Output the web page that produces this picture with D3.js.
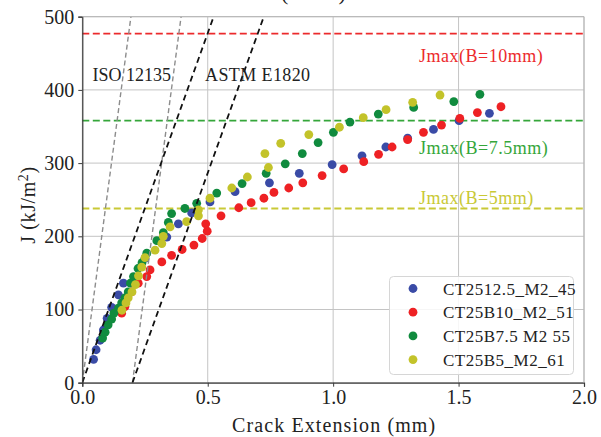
<!DOCTYPE html>
<html>
<head>
<meta charset="utf-8">
<script src="https://cdn.jsdelivr.net/npm/d3@7"></script>
<style>
  html, body { margin: 0; padding: 0; background: #fff; }
  svg { display: block; }
  text { font-family: "Liberation Serif", "Times New Roman", serif; fill: #222; }
</style>
</head>
<body>
<svg id="chart" width="601" height="437"></svg>
<script>
// ---- data: crack extension (mm) vs J (kJ/m^2) ----
const seriesNames = ["CT2512.5_M2_45", "CT25B10_M2_51", "CT25B7.5 M2 55", "CT25B5_M2_61"];

const ct25b125 = [
  [0.045, 32], [0.055, 45], [0.071, 58], [0.084, 72], [0.099, 88], [0.117, 103],
  [0.144, 120], [0.164, 136], [0.25, 170], [0.337, 199], [0.383, 217], [0.436, 232],
  [0.509, 247], [0.609, 261], [0.746, 273], [0.865, 286], [0.996, 298], [1.115, 310],
  [1.21, 322], [1.297, 334], [1.40, 346], [1.502, 358], [1.623, 368]
];
const ct25b10 = [
  [0.157, 95], [0.170, 104], [0.197, 124], [0.223, 136], [0.257, 145], [0.270, 154],
  [0.317, 165], [0.356, 174], [0.398, 182], [0.445, 188], [0.478, 197], [0.498, 207],
  [0.492, 217], [0.553, 228], [0.624, 239], [0.673, 246], [0.724, 252], [0.764, 260],
  [0.823, 266], [0.879, 273], [0.956, 283], [1.042, 292], [1.122, 302], [1.181, 312],
  [1.235, 322], [1.297, 332], [1.360, 342], [1.432, 352], [1.505, 361], [1.575, 369],
  [1.669, 377]
];
const ct25b75 = [
  [0.081, 61], [0.091, 69], [0.103, 79], [0.117, 87], [0.126, 95], [0.144, 102],
  [0.157, 109], [0.170, 116], [0.183, 124], [0.192, 136], [0.204, 145], [0.222, 156],
  [0.238, 164], [0.257, 177], [0.297, 194], [0.323, 205], [0.343, 219], [0.356, 231],
  [0.409, 238], [0.456, 245], [0.536, 259], [0.637, 272], [0.733, 286], [0.809, 299],
  [0.877, 313], [0.940, 328], [1.001, 342], [1.067, 356], [1.180, 367], [1.321, 376],
  [1.481, 384], [1.585, 394]
];
const ct25b5 = [
  [0.158, 99], [0.174, 109], [0.183, 116], [0.198, 124], [0.212, 134], [0.224, 146],
  [0.237, 158], [0.250, 171], [0.290, 181], [0.317, 190], [0.323, 200], [0.350, 213],
  [0.416, 220], [0.463, 228], [0.463, 236], [0.509, 252], [0.596, 266], [0.658, 281],
  [0.742, 294], [0.728, 313], [0.791, 327], [0.903, 339], [1.025, 349], [1.120, 362],
  [1.211, 373], [1.317, 383], [1.426, 393]
];
const seriesData = [ct25b125, ct25b10, ct25b75, ct25b5];

// maximum valid J for each specimen thickness
const jmaxValues = [477, 358, 238];
const jmaxLabels = ["Jmax(B=10mm)", "Jmax(B=7.5mm)", "Jmax(B=5mm)"];

// blunting / offset construction lines: J = slope * (da - offset)
const isoSlope = 2580;
const astmSlope = 955;
const constructionOffsets = [0, 0.2];

const xTicks = [0, 0.5, 1.0, 1.5, 2.0];
const yTicks = [0, 100, 200, 300, 400, 500];

// ---- layout ----
const svg = d3.select("#chart");
const plot = { left: 82.3, right: 584, top: 16.7, bottom: 382.7 };

const x = d3.scaleLinear().domain([0, 2]).range([plot.left, plot.right]);
const y = d3.scaleLinear().domain([0, 500]).range([plot.bottom, plot.top]);

const seriesColors = ["#3a4ba6", "#ee2124", "#108b3e", "#c3c32a"];
const jmaxColors = ["#ec2a2c", "#35a63a", "#c9c936"];

svg.append("defs").append("clipPath").attr("id", "plotClip")
  .append("rect")
  .attr("x", plot.left).attr("y", plot.top)
  .attr("width", plot.right - plot.left).attr("height", plot.bottom - plot.top);

// heading sits above the frame, mostly outside the page
svg.append("text")
  .attr("x", 281).attr("y", 0)
  .style("font-size", "22px")
  .text("(CT25)");

// ---- grid ----
const grid = svg.append("g");
grid.selectAll("line.gx").data(xTicks).join("line")
  .attr("x1", d => x(d)).attr("x2", d => x(d))
  .attr("y1", plot.top).attr("y2", plot.bottom)
  .attr("stroke", "#c4c4c4").attr("stroke-width", 1);
grid.selectAll("line.gy").data(yTicks).join("line")
  .attr("x1", plot.left).attr("x2", plot.right)
  .attr("y1", d => y(d)).attr("y2", d => y(d))
  .attr("stroke", "#c4c4c4").attr("stroke-width", 1);

// ---- Jmax limits ----
const jm = svg.append("g");
jm.selectAll("line").data(jmaxValues).join("line")
  .attr("x1", plot.left).attr("x2", plot.right)
  .attr("y1", d => y(d)).attr("y2", d => y(d))
  .attr("stroke", (d, i) => jmaxColors[i])
  .attr("stroke-width", 1.8)
  .attr("stroke-dasharray", "7,3.5");

const jmaxLabelOffsets = [-28, -33, 4];
jm.selectAll("text").data(jmaxValues).join("text")
  .attr("x", 419)
  .attr("y", (d, i) => y(d) - jmaxLabelOffsets[i])
  .style("fill", (d, i) => jmaxColors[i])
  .style("font-size", "18px")
  .style("letter-spacing", "0.5px")
  .text((d, i) => jmaxLabels[i]);

// ---- data points ----
const pts = svg.append("g").attr("clip-path", "url(#plotClip)");
seriesData.forEach((data, i) => {
  pts.append("g").selectAll("circle").data(data).join("circle")
    .attr("cx", d => x(d[0]))
    .attr("cy", d => y(d[1]))
    .attr("r", 4.4)
    .attr("fill", seriesColors[i]);
});

// ---- construction lines (on top of the points) ----
const cl = svg.append("g").attr("clip-path", "url(#plotClip)");
function constructionLine(slope, offset, color, width, dash) {
  const j0 = 0, j1 = 520;
  cl.append("line")
    .attr("x1", x(offset + j0 / slope)).attr("y1", y(j0))
    .attr("x2", x(offset + j1 / slope)).attr("y2", y(j1))
    .attr("stroke", color).attr("stroke-width", width)
    .attr("stroke-dasharray", dash);
}
constructionOffsets.forEach(o => constructionLine(isoSlope, o, "#8c8c8c", 1.4, "5,3"));
constructionOffsets.forEach(o => constructionLine(astmSlope, o, "#111", 1.8, "6,4"));

svg.append("text").attr("x", 92.5).attr("y", 81)
  .style("font-size", "18px").text("ISO 12135");
svg.append("text").attr("x", 205).attr("y", 81)
  .style("font-size", "18px").style("letter-spacing", "0.4px").text("ASTM E1820");

// ---- axes ----
const xAxis = d3.axisBottom(x).tickValues(xTicks).tickFormat(d3.format(".1f")).tickSize(4).tickPadding(3);
const yAxis = d3.axisLeft(y).tickValues(yTicks).tickFormat(d3.format("d")).tickSize(4).tickPadding(4);

const gx = svg.append("g").attr("transform", `translate(0,${plot.bottom})`).call(xAxis);
const gy = svg.append("g").attr("transform", `translate(${plot.left},0)`).call(yAxis);
[gx, gy].forEach(g => {
  g.select(".domain").attr("stroke", "#3a3a3a").attr("stroke-width", 1.2);
  g.selectAll(".tick line").attr("stroke", "#3a3a3a");
  g.selectAll(".tick text").style("font-size", "20px")
    .style("font-family", "'Liberation Serif', 'Times New Roman', serif").attr("fill", "#222");
});
// top / right frame
svg.append("line").attr("x1", plot.left).attr("x2", plot.right).attr("y1", plot.top).attr("y2", plot.top)
  .attr("stroke", "#b5b5b5");
svg.append("line").attr("x1", plot.right).attr("x2", plot.right).attr("y1", plot.top).attr("y2", plot.bottom)
  .attr("stroke", "#b5b5b5");

svg.append("text")
  .attr("x", (plot.left + plot.right) / 2 + 1).attr("y", 432)
  .attr("text-anchor", "middle")
  .style("font-size", "20px").style("letter-spacing", "1.1px")
  .text("Crack Extension (mm)");

const yl = svg.append("text")
  .attr("transform", "translate(35,205) rotate(-90)")
  .attr("text-anchor", "middle")
  .style("font-size", "20px").style("letter-spacing", "0.6px");
yl.append("tspan").text("J (kJ/m");
yl.append("tspan").attr("dy", -7).style("font-size", "14px").text("2");
yl.append("tspan").attr("dy", 7).text(")");

// ---- legend ----
const lg = svg.append("g");
lg.append("rect")
  .attr("x", 389.5).attr("y", 276.5).attr("width", 184).attr("height", 98)
  .attr("rx", 4).attr("fill", "#fff").attr("fill-opacity", 0.85)
  .attr("stroke", "#d6d6d6").attr("stroke-width", 1);
seriesNames.forEach((name, i) => {
  const cy = 288.5 + i * 23.7;
  lg.append("circle").attr("cx", 413).attr("cy", cy).attr("r", 4.4).attr("fill", seriesColors[i]);
  lg.append("text").attr("x", 443).attr("y", cy + 6)
    .style("font-size", "17px").style("letter-spacing", "0.5px").text(name);
});
</script>
</body>
</html>
